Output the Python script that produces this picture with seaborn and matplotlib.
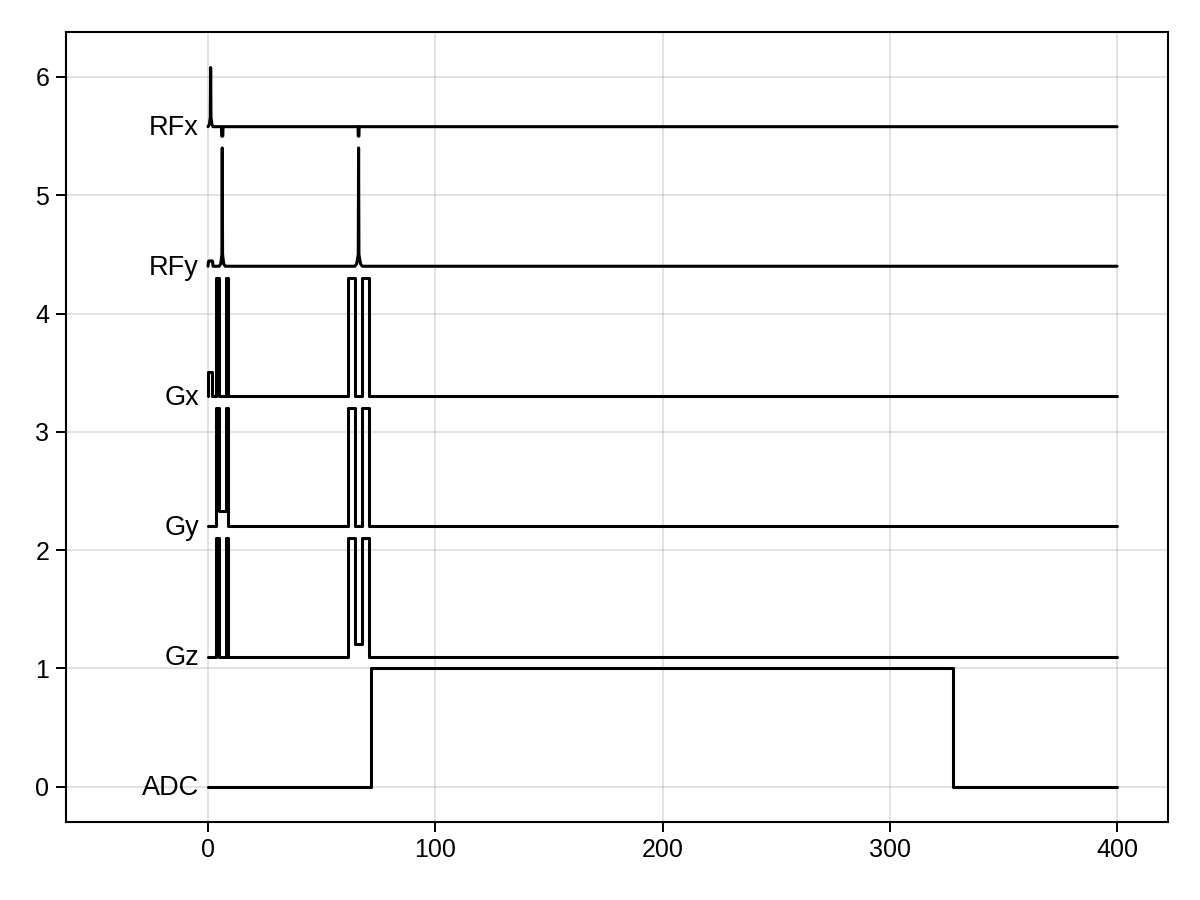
import matplotlib
matplotlib.use('Agg')
import matplotlib.pyplot as plt
import seaborn as sns
import numpy as np

# данные: углы ступенчатых сигналов и формы RF-импульсов
labels = ['ADC', 'Gz', 'Gy', 'Gx', 'RFy', 'RFx']
offsets = [0, 1.1, 2.2, 3.3, 4.4, 5.58]

rfx_t = [0, 0.6, 1.0, 1.15, 1.3, 1.7, 2.2, 5.9, 6.0, 6.25, 6.5, 6.6,
         66.0, 66.1, 66.25, 66.4, 66.5, 400]
rfx_v = [0, 0.02, 0.08, 0.5, 0.08, 0.02, 0, 0, -0.08, -0.08, -0.08, 0,
         0, -0.08, -0.08, -0.08, 0, 0]

rfy_t = [0, 0.2, 0.5, 1.15, 1.8, 2.0, 2.2, 4.9, 5.6, 6.1, 6.25, 6.4, 6.9, 7.6,
         64.6, 65.4, 66.1, 66.25, 66.4, 67.1, 67.9, 400]
rfy_v = [0, 0.04, 0.045, 0.045, 0.045, 0.04, 0, 0, 0.02, 0.1, 1.0, 0.1, 0.02, 0,
         0, 0.02, 0.1, 1.0, 0.1, 0.02, 0, 0]

gx_t = [0, 0, 1.9, 1.9, 3.7, 3.7, 4.7, 4.7, 7.8, 7.8, 8.8, 8.8,
        61.6, 61.6, 64.6, 64.6, 67.9, 67.9, 71.0, 71.0, 400]
gx_v = [0, 0.21, 0.21, 0, 0, 1, 1, 0, 0, 1, 1, 0,
        0, 1, 1, 0, 0, 1, 1, 0, 0]

gy_t = [0, 3.7, 3.7, 4.7, 4.7, 7.8, 7.8, 8.8, 8.8,
        61.6, 61.6, 64.6, 64.6, 67.9, 67.9, 71.0, 71.0, 400]
gy_v = [0, 0, 1, 1, 0.13, 0.13, 1, 1, 0,
        0, 1, 1, 0, 0, 1, 1, 0, 0]

gz_t = [0, 3.7, 3.7, 4.7, 4.7, 7.8, 7.8, 8.8, 8.8,
        61.6, 61.6, 64.6, 64.6, 67.9, 67.9, 71.0, 71.0, 400]
gz_v = [0, 0, 1, 1, 0, 0, 1, 1, 0,
        0, 1, 1, 0.11, 0.11, 1, 1, 0, 0]

adc_t = [0, 71.7, 71.7, 327.7, 327.7, 400]
adc_v = [0, 0, 1, 1, 0, 0]

series = [(adc_t, adc_v), (gz_t, gz_v), (gy_t, gy_v),
          (gx_t, gx_v), (rfy_t, rfy_v), (rfx_t, rfx_v)]

sns.set_theme(style='ticks')
plt.rcParams['font.family'] = ['Liberation Sans', 'DejaVu Sans']

fig = plt.figure(figsize=(12, 9), dpi=100)
ax = fig.add_axes([0.055, 0.087, 0.9183, 0.8774])

for (t, v), off, name in zip(series, offsets, labels):
    sns.lineplot(x=t, y=np.array(v) + off, ax=ax, color='black',
                 sort=False, estimator=None, linewidth=2.2)
    ax.text(-4, off - 0.015, name, ha='right', va='center', fontsize=19.5,
            color='black')

ax.set_xlim(-62.5, 422.4)
ax.set_ylim(-0.296, 6.38)
ax.set_xticks([0, 100, 200, 300, 400])
ax.set_yticks([0, 1, 2, 3, 4, 5, 6])
ax.grid(True, color='black', alpha=0.12, linewidth=1.3)
ax.set_axisbelow(True)
for s in ax.spines.values():
    s.set_visible(True)
    s.set_linewidth(1.5)
    s.set_color('black')
ax.tick_params(direction='out', length=7, width=1.4, labelsize=18,
               colors='black', pad=5)

plt.savefig('out.png', dpi=100)
